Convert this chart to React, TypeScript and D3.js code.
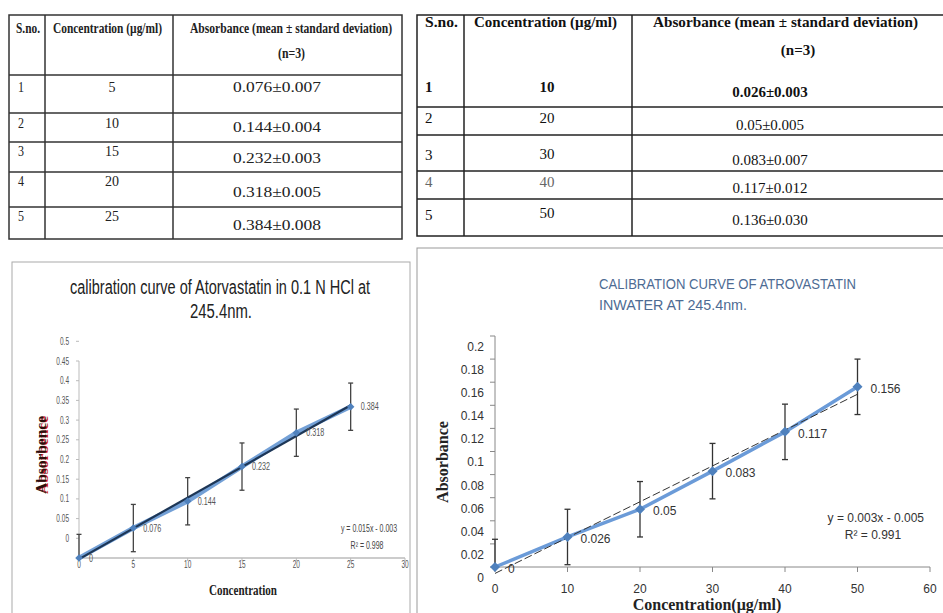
import React from 'react';
import * as d3 from 'd3';

// table 1 (0.1 N HCl)
const t1Sno = ['1', '2', '3', '4', '5'];
const t1Conc = ['5', '10', '15', '20', '25'];
const t1Abs = ['0.076±0.007', '0.144±0.004', '0.232±0.003', '0.318±0.005', '0.384±0.008'];

// table 2 (water)
const t2Sno = ['1', '2', '3', '4', '5'];
const t2Conc = ['10', '20', '30', '40', '50'];
const t2Abs = ['0.026±0.003', '0.05±0.005', '0.083±0.007', '0.117±0.012', '0.136±0.030'];

// chart 1 series
const hclConc = [0, 5, 10, 15, 20, 25];
const hclAbs = [0, 0.076, 0.144, 0.232, 0.318, 0.384];
const hclErr = [0.06, 0.06, 0.06, 0.06, 0.06, 0.06];
const hclXTicks = [0, 5, 10, 15, 20, 25, 30];
const hclYTicks = [0, 0.05, 0.1, 0.15, 0.2, 0.25, 0.3, 0.35, 0.4, 0.45, 0.5];

// chart 2 series
const waterConc = [0, 10, 20, 30, 40, 50];
const waterAbs = [0, 0.026, 0.05, 0.083, 0.117, 0.156];
const waterErr = [0.024, 0.024, 0.024, 0.024, 0.024, 0.024];
const waterXTicks = [0, 10, 20, 30, 40, 50, 60];
const waterYTicks = [0, 0.02, 0.04, 0.06, 0.08, 0.1, 0.12, 0.14, 0.16, 0.18, 0.2];

const SERIF = "'Liberation Serif', 'Times New Roman', serif";
const SANS = "'Liberation Sans', Arial, sans-serif";

// least squares fit for the trendline
const fit = (xs: number[], ys: number[]) => {
  const mx = d3.mean(xs) as number;
  const my = d3.mean(ys) as number;
  let sxy = 0;
  let sxx = 0;
  xs.forEach((x, i) => {
    sxy += (x - mx) * (ys[i] - my);
    sxx += (x - mx) * (x - mx);
  });
  const b = sxy / sxx;
  return { b, a: my - b * mx };
};

// squeezed text (chart 1 was pasted narrow)
const Sq = ({ x, y, sx = 0.65, children, ...rest }: any) => (
  <text transform={`translate(${x},${y}) scale(${sx},1)`} {...rest}>
    {children}
  </text>
);

const Table1 = () => {
  const rows = [75, 113, 142, 172, 207, 239];
  const base = [92, 132, 163, 197, 230];
  const baseL = [92, 128, 156, 186, 221];
  return (
    <g fontFamily={SERIF} fill="#222">
      <rect x={9} y={15} width={393} height={224} fill="none" stroke="#333" strokeWidth={1.5} />
      {rows.slice(0, -1).map((r) => (
        <line key={r} x1={9} x2={402} y1={r} y2={r} stroke="#333" strokeWidth={1.5} />
      ))}
      <line x1={45} x2={45} y1={15} y2={239} stroke="#333" strokeWidth={1.5} />
      <line x1={173} x2={173} y1={15} y2={239} stroke="#333" strokeWidth={1.5} />
      <g fontWeight="bold" fontSize={14}>
        <text x={16} y={33} textLength={24} lengthAdjust="spacingAndGlyphs">S.no.</text>
        <text x={53} y={33} textLength={109} lengthAdjust="spacingAndGlyphs">Concentration (µg/ml)</text>
        <text x={190} y={33} textLength={202} lengthAdjust="spacingAndGlyphs">
          Absorbance (mean ± standard deviation)
        </text>
        <text x={278} y={58} textLength={27} lengthAdjust="spacingAndGlyphs">(n=3)</text>
      </g>
      <g fontSize={14}>
        {t1Sno.map((s, i) => (
          <text key={'s' + i} x={18} y={baseL[i]} textLength={6} lengthAdjust="spacingAndGlyphs">{s}</text>
        ))}
        {t1Conc.map((c, i) => (
          <text key={'c' + i} x={112} y={baseL[i]} textAnchor="middle">{c}</text>
        ))}
        {t1Abs.map((v, i) => (
          <text key={'v' + i} x={233} y={base[i]} textLength={88} lengthAdjust="spacingAndGlyphs">{v}</text>
        ))}
      </g>
    </g>
  );
};

const Table2 = () => {
  const rows = [107, 135, 171, 199];
  const baseS = [92, 123, 160, 187, 220];
  const baseC = [92, 123, 159, 187, 218];
  const baseV = [97, 130, 165, 193, 225];
  return (
    <g fontFamily={SERIF} fill="#111">
      <rect x={417} y={15} width={530} height={221} fill="none" stroke="#222" strokeWidth={1.5} />
      {rows.map((r) => (
        <line key={r} x1={417} x2={943} y1={r} y2={r} stroke="#222" strokeWidth={1.5} />
      ))}
      <line x1={464} x2={464} y1={15} y2={236} stroke="#222" strokeWidth={1.5} />
      <line x1={632} x2={632} y1={15} y2={236} stroke="#222" strokeWidth={1.5} />
      <g fontWeight="bold" fontSize={14}>
        <text x={425} y={27} textLength={33} lengthAdjust="spacingAndGlyphs">S.no.</text>
        <text x={474} y={27} textLength={143} lengthAdjust="spacingAndGlyphs">Concentration (µg/ml)</text>
        <text x={653} y={27} textLength={265} lengthAdjust="spacingAndGlyphs">Absorbance (mean ± standard deviation)</text>
        <text x={798} y={55} fontSize={15} textAnchor="middle">(n=3)</text>
      </g>
      {t2Sno.map((s, i) => (
        <text key={'s' + i} x={425} y={baseS[i]} fontSize={15} fontWeight={i === 0 ? 'bold' : 'normal'} fill={i === 3 ? '#666' : '#111'}>
          {s}
        </text>
      ))}
      {t2Conc.map((c, i) => (
        <text key={'c' + i} x={547} y={baseC[i]} fontSize={15} textAnchor="middle" fontWeight={i === 0 ? 'bold' : 'normal'} fill={i === 3 ? '#666' : '#111'}>
          {c}
        </text>
      ))}
      {t2Abs.map((v, i) => (
        <text key={'v' + i} x={770} y={baseV[i]} fontSize={15} textAnchor="middle" fontWeight={i === 0 ? 'bold' : 'normal'}>
          {v}
        </text>
      ))}
    </g>
  );
};

const HclChart = () => {
  const x = d3.scaleLinear().domain([0, 30]).range([79, 405]);
  const y = d3.scaleLinear().domain([0, 0.5]).range([558, 361]);
  // tick labels sit one step low in the picture
  const yLab = d3.scaleLinear().domain([0, 0.5]).range([y(0.05), y(0.55)]);
  const pts = hclConc.map((c, i) => [c, hclAbs[i]] as [number, number]);
  const line = d3.line<[number, number]>().x((d) => x(d[0])).y((d) => y(d[1]));
  const { a, b } = fit(hclConc, hclAbs);
  const xr = d3.extent(hclConc) as [number, number];
  const diamond = d3.symbol().type(d3.symbolSquare).size(28)();

  return (
    <g>
      <rect x={12} y={262} width={398} height={360} fill="#fff" stroke="#aaa" />
      <text x={220} y={294} fontFamily={SANS} fontSize={20} fill="#222" textAnchor="middle" textLength={300} lengthAdjust="spacingAndGlyphs">
        calibration curve of Atorvastatin in 0.1 N HCl at
      </text>
      <text x={221} y={318} fontFamily={SANS} fontSize={20} fill="#222" textAnchor="middle" textLength={62} lengthAdjust="spacingAndGlyphs">
        245.4nm.
      </text>

      {/* axes */}
      <line x1={x(0)} x2={x(0)} y1={y(0)} y2={y(0.5)} stroke="#bbb" />
      <line x1={x(0)} x2={x(30)} y1={y(0)} y2={y(0)} stroke="#bbb" strokeWidth={1.5} />
      {hclYTicks.map((t) => (
        <g key={t}>
          <line x1={x(0) - 3} x2={x(0)} y1={yLab(t)} y2={yLab(t)} stroke="#bbb" />
          <Sq x={69} y={yLab(t) + 3.5} fontFamily={SANS} fontSize={10} fill="#555" textAnchor="end">
            {t}
          </Sq>
        </g>
      ))}
      {hclXTicks.map((t) => (
        <g key={t}>
          <line x1={x(t)} x2={x(t)} y1={y(0)} y2={y(0) + 3} stroke="#bbb" />
          <Sq x={x(t)} y={568} fontFamily={SANS} fontSize={10} fill="#555" textAnchor="middle">
            {t}
          </Sq>
        </g>
      ))}

      {/* error bars */}
      {pts.map(([c, v], i) => {
        const top = y(v + hclErr[i]);
        const bot = Math.min(y(v - hclErr[i]), y(0));
        return (
          <g key={c} stroke="#444" strokeWidth={1.3}>
            <line x1={x(c)} x2={x(c)} y1={top} y2={bot} />
            <line x1={x(c) - 2.5} x2={x(c) + 2.5} y1={top} y2={top} />
            {bot < y(0) && <line x1={x(c) - 2.5} x2={x(c) + 2.5} y1={bot} y2={bot} />}
          </g>
        );
      })}

      <path d={line(pts) as string} fill="none" stroke="#5b8fcf" strokeWidth={4.5} opacity={0.85} />
      <line x1={x(xr[0])} y1={y(a + b * xr[0])} x2={x(xr[1])} y2={y(a + b * xr[1])} stroke="#1d3656" strokeWidth={2.2} />
      {pts.map(([c, v]) => (
        <path key={c} d={diamond as string} transform={`translate(${x(c)},${y(v)}) rotate(45)`} fill="#4f81bd" />
      ))}
      {pts.map(([c, v]) => (
        <Sq key={c} x={x(c) + 10} y={y(v) + 3.5} sx={0.72} fontFamily={SANS} fontSize={10} fill="#555">
          {v}
        </Sq>
      ))}

      <Sq x={369} y={532} sx={0.7} fontFamily={SANS} fontSize={10} fill="#444" textAnchor="middle">
        y = 0.015x - 0.003
      </Sq>
      <Sq x={367} y={549} sx={0.7} fontFamily={SANS} fontSize={10} fill="#444" textAnchor="middle">
        R² = 0.998
      </Sq>

      <text x={243} y={595} fontFamily={SERIF} fontWeight="bold" fontSize={14} fill="#222" textAnchor="middle" textLength={68} lengthAdjust="spacingAndGlyphs">
        Concentration
      </text>
      <g transform="translate(46,455) rotate(-90)" fontFamily={SERIF} fontWeight="bold" fontSize={14}>
        <text x={0} y={1.5} fill="#d01515" textAnchor="middle" textLength={78} lengthAdjust="spacingAndGlyphs">
          Absorbence
        </text>
        <text x={0} y={0} fill="#2a1010" textAnchor="middle" textLength={78} lengthAdjust="spacingAndGlyphs">
          Absorbence
        </text>
      </g>
    </g>
  );
};

const WaterChart = () => {
  const x = d3.scaleLinear().domain([0, 60]).range([495, 930]);
  const y = d3.scaleLinear().domain([0, 0.2]).range([567, 336]);
  // tick labels sit half a step low in the picture
  const yLab = (v: number) => y(v - 0.0095);
  const pts = waterConc.map((c, i) => [c, waterAbs[i]] as [number, number]);
  const line = d3.line<[number, number]>().x((d) => x(d[0])).y((d) => y(d[1]));
  const { a, b } = fit(waterConc, waterAbs);
  const xr = d3.extent(waterConc) as [number, number];
  const diamond = d3.symbol().type(d3.symbolSquare).size(50)();

  return (
    <g>
      <rect x={417} y={248} width={530} height={370} fill="#fff" stroke="#999" />
      <text x={599} y={289} fontFamily={SANS} fontSize={15} fill="#4d6b93" textLength={257} lengthAdjust="spacingAndGlyphs">
        CALIBRATION CURVE OF ATROVASTATIN
      </text>
      <text x={599} y={310} fontFamily={SANS} fontSize={15} fill="#4d6b93" textLength={148} lengthAdjust="spacingAndGlyphs">
        INWATER AT 245.4nm.
      </text>

      <line x1={x(0)} x2={x(0)} y1={y(0)} y2={y(0.2)} stroke="#888" />
      <line x1={x(0)} x2={x(60)} y1={y(0)} y2={y(0)} stroke="#888" />
      {waterYTicks.map((t) => (
        <g key={t}>
          <line x1={x(0) - 5} x2={x(0)} y1={y(t)} y2={y(t)} stroke="#888" />
          <text x={484} y={yLab(t) + 4} fontFamily={SANS} fontSize={12} fill="#333" textAnchor="end">
            {t}
          </text>
        </g>
      ))}
      {waterXTicks.map((t) => (
        <g key={t}>
          <line x1={x(t)} x2={x(t)} y1={y(0)} y2={y(0) + 5} stroke="#888" />
          <text x={x(t)} y={593} fontFamily={SANS} fontSize={12} fill="#333" textAnchor="middle">
            {t}
          </text>
        </g>
      ))}

      {pts.map(([c, v], i) => {
        const top = y(v + waterErr[i]);
        const bot = Math.min(y(v - waterErr[i]), y(0));
        return (
          <g key={c} stroke="#333" strokeWidth={1.3}>
            <line x1={x(c)} x2={x(c)} y1={top} y2={bot} />
            <line x1={x(c) - 3} x2={x(c) + 3} y1={top} y2={top} />
            {bot < y(0) && <line x1={x(c) - 3} x2={x(c) + 3} y1={bot} y2={bot} />}
          </g>
        );
      })}

      <path d={line(pts) as string} fill="none" stroke="#6b9bd8" strokeWidth={3.5} />
      <line x1={x(xr[0])} y1={y(a + b * xr[0])} x2={x(xr[1])} y2={y(a + b * xr[1])} stroke="#333" strokeWidth={1} strokeDasharray="8,3" />
      {pts.map(([c, v]) => (
        <path key={c} d={diamond as string} transform={`translate(${x(c)},${y(v)}) rotate(45)`} fill="#4f81bd" />
      ))}
      {pts.map(([c, v]) => (
        <text key={c} x={x(c) + 13} y={y(v) + 6} fontFamily={SANS} fontSize={12} fill="#333">
          {v}
        </text>
      ))}

      <text x={924} y={522} fontFamily={SANS} fontSize={12} fill="#333" textAnchor="end">
        y = 0.003x - 0.005
      </text>
      <text x={873} y={539} fontFamily={SANS} fontSize={12} fill="#333" textAnchor="middle">
        R² = 0.991
      </text>

      <text x={707} y={610} fontFamily={SERIF} fontWeight="bold" fontSize={16} fill="#222" textAnchor="middle">
        Concentration(μg/ml)
      </text>
      <text transform="translate(448,462) rotate(-90)" fontFamily={SERIF} fontWeight="bold" fontSize={16} fill="#222" textAnchor="middle">
        Absorbance
      </text>
    </g>
  );
};

const App = () => (
  <svg width={943} height={613} style={{ position: 'absolute', left: 0, top: 0, background: '#fff' }}>
    <rect width={943} height={613} fill="#fff" />
    <Table1 />
    <Table2 />
    <HclChart />
    <WaterChart />
  </svg>
);

export default App;
